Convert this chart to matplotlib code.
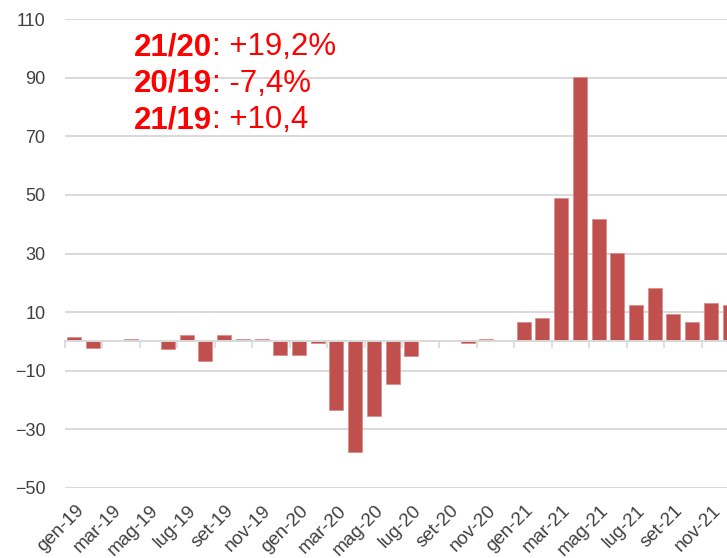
import numpy as np
import matplotlib.pyplot as plt
import matplotlib.transforms as mtransforms

plt.rcParams['font.family'] = ['Liberation Sans', 'DejaVu Sans']

# monthly values, gen-19 .. dic-21
months = ["gen", "feb", "mar", "apr", "mag", "giu", "lug", "ago", "set", "ott", "nov", "dic"]
years = ["19", "20", "21"]
labels = [f"{m}-{y}" for y in years for m in months]

values_19 = [1.6, -2.3, 0.0, 0.7, 0.0, -2.6, 2.1, -6.7, 2.1, 0.8, 0.8, -4.7]
values_20 = [-4.7, -0.7, -23.3, -37.7, -25.3, -14.6, -5.0, 0.0, 0.0, -0.6, 0.8, 0.0]
values_21 = [6.5, 8.1, 49.1, 90.2, 41.8, 30.3, 12.4, 18.4, 9.2, 6.5, 13.2, 12.4]
values = values_19 + values_20 + values_21

notes_bold = ["21/20", "20/19", "21/19"]
notes_text = [": +19,2%", ": -7,4%", ": +10,4"]

W, H = 727, 558
fig = plt.figure(figsize=(W / 100, H / 100), dpi=100)
ax = fig.add_axes([65 / W, (H - 488) / H, 674 / W, (488 - 19) / H])

x = np.arange(len(values))
ax.bar(x, values, width=0.75, color="#c0504d", edgecolor="#d98a88", linewidth=0.5, zorder=3)

ax.set_xlim(-0.5, len(values) - 0.5)
ax.set_ylim(-50, 110)
ax.set_yticks(np.arange(-50, 111, 20))
ax.yaxis.grid(True, color="#d9d9d9", linewidth=1.4, zorder=0)
ax.tick_params(axis="y", length=0, labelsize=13, labelcolor="#404040", pad=14)

# category axis sits on zero, ticks at every second boundary
for s in ["top", "right", "left"]:
    ax.spines[s].set_visible(False)
ax.spines["bottom"].set_position(("data", 0))
ax.spines["bottom"].set_color("#d9d9d9")
ax.spines["bottom"].set_linewidth(1.4)
ax.spines["bottom"].set_zorder(4)
ax.set_xticks(x[::2] - 0.5)
ax.set_xticklabels([])
ax.tick_params(axis="x", length=5, width=1.2, color="#d9d9d9", direction="out")

trans = mtransforms.blended_transform_factory(ax.transData, ax.transAxes)
for i in x[::2]:
    ax.text(i + 0.05, -0.03, labels[i], transform=trans, rotation=45,
            rotation_mode="anchor", ha="right", va="top",
            fontsize=13.5, color="#404040")

# annotation block
for k, (b, t) in enumerate(zip(notes_bold, notes_text)):
    y = (H - 55 - k * 36.7) / H
    tb = fig.text(134 / W, y, b, fontsize=22.5, fontweight="bold", color="#ff0000", va="baseline")
    ax.annotate(t, xy=(1, 0), xycoords=tb, va="bottom", ha="left",
                fontsize=22.5, color="#ff0000", annotation_clip=False)

fig.savefig("out.png", dpi=100)
